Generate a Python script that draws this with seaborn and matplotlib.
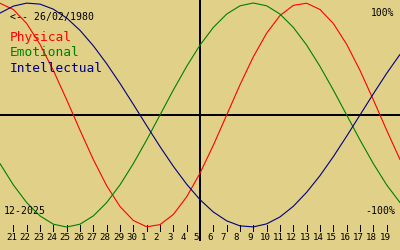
import matplotlib
matplotlib.use("Agg")
import matplotlib.pyplot as plt
import seaborn as sns
import pandas as pd

# day labels (position index 0 .. 28), plus one padding day each side
day_labels = ["21", "22", "23", "24", "25", "26", "27", "28", "29", "30",
              "1", "2", "3", "4", "5", "6", "7", "8", "9", "10", "11", "12",
              "13", "14", "15", "16", "17", "18", "19"]
day_pos = list(range(-1, 30))  # -1 .. 29

physical = [0.998, 0.942, 0.817, 0.631, 0.398, 0.136, -0.136, -0.398, -0.631,
            -0.817, -0.942, -0.998, -0.979, -0.888, -0.731, -0.520, -0.270,
            0.0, 0.270, 0.520, 0.731, 0.888, 0.979, 0.998, 0.942, 0.817,
            0.631, 0.398, 0.136, -0.136, -0.398]
emotional = [-0.434, -0.624, -0.782, -0.901, -0.975, -1.0, -0.975, -0.901,
             -0.782, -0.624, -0.434, -0.223, 0.0, 0.223, 0.434, 0.624, 0.782,
             0.901, 0.975, 1.0, 0.975, 0.901, 0.782, 0.624, 0.434, 0.223, 0.0,
             -0.223, -0.434, -0.624, -0.782]
intellectual = [0.910, 0.972, 0.999, 0.990, 0.945, 0.866, 0.756, 0.618,
                0.458, 0.282, 0.095, -0.095, -0.282, -0.458, -0.618, -0.756,
                -0.866, -0.945, -0.990, -0.999, -0.972, -0.910, -0.815,
                -0.690, -0.541, -0.372, -0.189, 0.0, 0.189, 0.372, 0.541]

series_names = ["Physical", "Emotional", "Intellectual"]
series_colors = ["#ff0000", "#008000", "#000080"]
today_pos = 14
birth_text = "<-- 26/02/1980"
month_text = "12-2025"

BG = "#e0d088"

sns.set_theme(style="white")
plt.rcParams["font.family"] = ["DejaVu Sans Mono", "DejaVu Sans"]

rows = []
for name, vals in zip(series_names, [physical, emotional, intellectual]):
    for p, v in zip(day_pos, vals):
        rows.append({"day": p, "value": v, "series": name})
df = pd.DataFrame(rows)

fig = plt.figure(figsize=(4, 2.5), dpi=100, facecolor=BG)
ax = fig.add_axes([0, 0, 1, 1])
ax.set_facecolor(BG)

A = 112.0
ax.set_xlim(-1, 29)
ax.set_ylim((115 - 250) / A, 115 / A)
PX = 30.0 / 400.0  # one pixel in day units

sns.lineplot(data=df, x="day", y="value", hue="series",
             palette=dict(zip(series_names, series_colors)),
             linewidth=0.8, legend=False, ax=ax, zorder=3)

# axes cross
ax.axhline(0, color="black", linewidth=1.44, zorder=2, antialiased=False)
ax.vlines(today_pos, (115 - 241) / A, 115 / A, color="black",
          linewidth=1.44, zorder=2, antialiased=False)

# tick marks and labels
tick_top = (115 - 225) / A
tick_bot = (115 - 231) / A
lab_y = (115 - 237.5) / A
for i, lab in enumerate(day_labels):
    ax.vlines(i, tick_bot, tick_top, color="black", linewidth=0.72,
              antialiased=False)
    off = -1.5 if len(lab) == 2 else -3.5
    ax.text(i + off * PX, lab_y, lab, ha="center", va="center",
            fontsize=6.6, color="black")

for s in ax.spines.values():
    s.set_visible(False)
ax.set_xticks([])
ax.set_yticks([])
ax.set_xlabel("")
ax.set_ylabel("")

def fy(ypix):
    return 1 - ypix / 250.0

ax.text(10 / 400, fy(16.5), birth_text, transform=ax.transAxes,
        ha="left", va="center", fontsize=7.1, color="black")
for k, (name, col) in enumerate(zip(series_names, series_colors)):
    ax.text(10 / 400, fy(38 + 15 * k), name, transform=ax.transAxes,
            ha="left", va="center", fontsize=9.3, color=col)
ax.text(394 / 400, fy(12.5), "100%", transform=ax.transAxes,
        ha="right", va="center", fontsize=7, color="black")
ax.text(395 / 400, fy(211), "-100%", transform=ax.transAxes,
        ha="right", va="center", fontsize=7.1, color="black")
ax.text(4 / 400, fy(211), month_text, transform=ax.transAxes,
        ha="left", va="center", fontsize=7.1, color="black")

fig.savefig("out.png", dpi=100, facecolor=BG)
